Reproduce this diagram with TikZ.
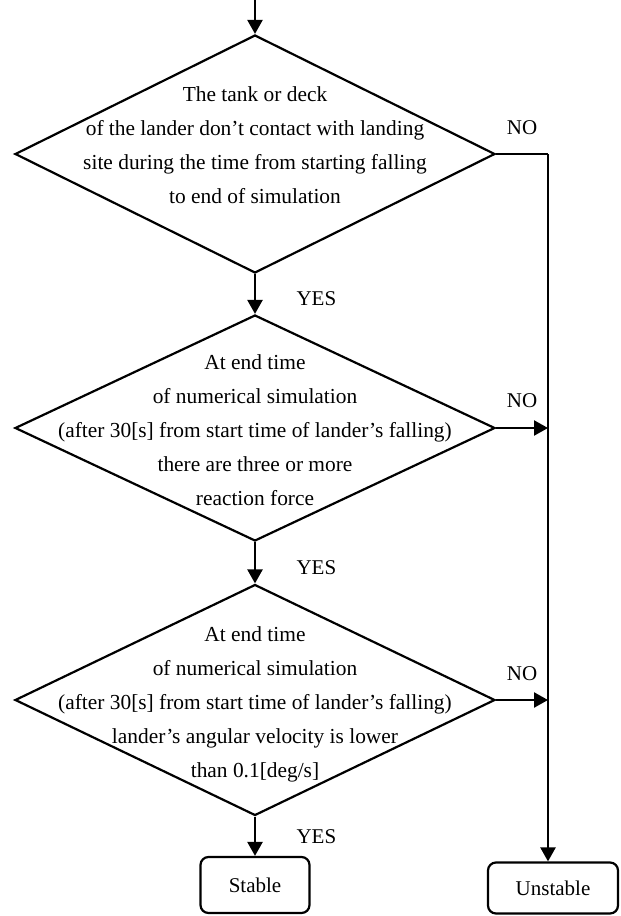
\documentclass[tikz,border=0pt]{standalone}
\usepackage{fontspec}
\setmainfont{Liberation Serif}
\usetikzlibrary{shapes.geometric,arrows.meta}
\begin{document}
\begin{tikzpicture}[x=1pt,y=-1pt,
    decision/.style={diamond, draw=black, line width=2.2pt, inner sep=0pt,
      minimum width=480pt, minimum height=#1},
    dtext/.style={align=center, inner sep=0pt, font=\fontsize{21.4}{34}\selectfont},
    endbox/.style={draw=black, line width=2.2pt, rounded corners=8pt,
      font=\fontsize{21}{25}\selectfont},
    lbl/.style={font=\fontsize{21}{25}\selectfont},
    flow/.style={line width=2.4pt, -{Triangle[length=14pt,width=15pt]}}]
      \useasboundingbox (0,0) rectangle (621,916);

      \coordinate (s) at (255,0);
      \node[decision=238pt](d1) at (255,154){};
      \node[dtext](t1) at (255,145){The tank or deck\\of the lander don’t contact with landing\\site during the time from starting falling\\to end of simulation};
      \node[decision=226pt](d2) at (255,428){};
      \node[dtext](t2) at (255,430){At end time\\of numerical simulation\\(after 30[s] from start time of lander’s falling)\\there are three or more\\reaction force};
      \node[decision=231pt](d3) at (255,700){};
      \node[dtext](t3) at (255,704){At end time\\of numerical simulation\\(after 30[s] from start time of lander’s falling)\\lander’s angular velocity is lower\\than 0.1[deg/s]};
      \node[endbox, minimum width=109pt, minimum height=56pt](st) at (255,885){Stable};
      \node[endbox, minimum width=130pt, minimum height=51pt](un) at (553,888){Unstable};
      \coordinate (c1) at (548,154);

      % yes branches
      \draw[flow] (s) -- (d1.north);
      \draw[flow] (d1.south) -- node[lbl, anchor=west, xshift=37pt, yshift=-5pt](y1){YES} (d2.north);
      \draw[flow] (d2.south) -- node[lbl, anchor=west, xshift=37pt, yshift=-5pt](y2){YES} (d3.north);
      \draw[flow] (d3.south) -- node[lbl, anchor=west, xshift=37pt](y3){YES} (st.north);

      % no branches
      \draw[line width=1.2pt] (d1.east) -- node[lbl, yshift=26pt](n1){NO} (c1);
      \draw[flow] (c1) -- (c1 |- un.north);
      \draw[flow] (d2.east) -- node[lbl, yshift=27pt](n2){NO} (d2.east -| c1);
      \draw[flow] (d3.east) -- node[lbl, yshift=26pt](n3){NO} (d3.east -| c1);
    \end{tikzpicture}
\end{document}
